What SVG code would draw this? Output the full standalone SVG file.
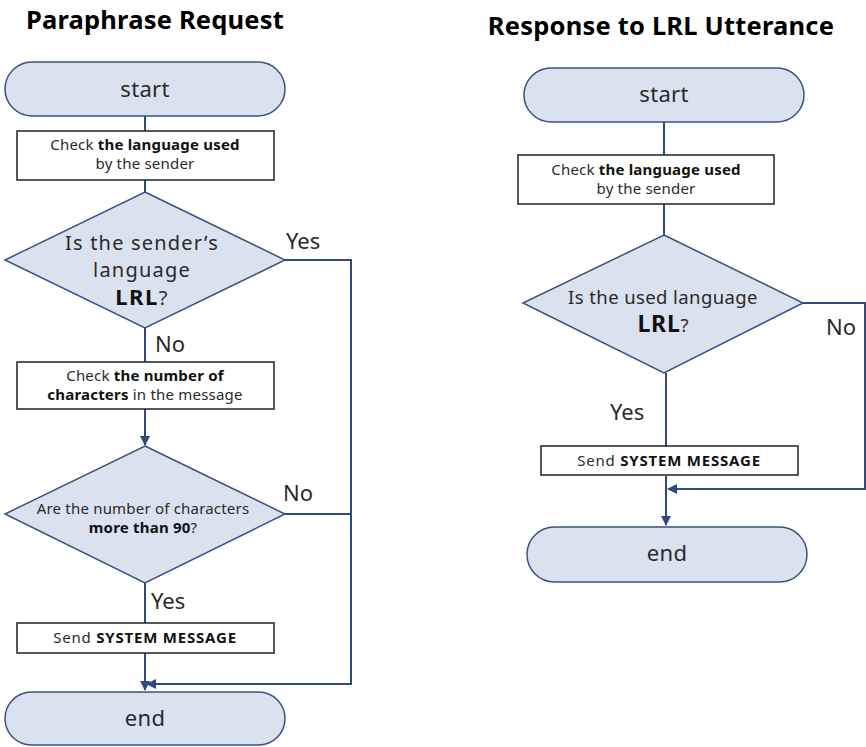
<svg xmlns="http://www.w3.org/2000/svg" width="866" height="747" viewBox="0 0 866 747">
<defs>
<style>
text{font-family:"Noto Sans","DejaVu Sans",sans-serif;fill:#2a2a2a;text-anchor:middle}
.title{font-size:25.5px;font-weight:bold;fill:#000;letter-spacing:0.2px}
.term{fill:#dae1ef;stroke:#3b5181;stroke-width:1.5}
.dia{fill:#dae1ef;stroke:#3b5181;stroke-width:1.5}
.box{fill:#fff;stroke:#222;stroke-width:1.5}
.t14{font-size:15px;letter-spacing:0.2px}
.send{font-size:15px;letter-spacing:0.8px}
.t20{font-size:22px;letter-spacing:0.3px}
.q{font-size:20px;letter-spacing:1.2px}
.lbl{font-size:22px;text-anchor:start}
.b{font-weight:bold;fill:#111}
.big{font-size:22px;letter-spacing:1.5px}
.con{fill:none;stroke:#2f4a7c;stroke-width:2}
</style>
<marker id="ah" viewBox="0 0 10 10" refX="9" refY="5" markerWidth="5" markerHeight="5" orient="auto-start-reverse">
<path d="M0,0 L10,5 L0,10 z" fill="#2f4a7c"/>
</marker>
</defs>
<rect width="866" height="747" fill="#fff"/>
<text class="title" x="155" y="29">Paraphrase Request</text>
<text class="title" x="661" y="35">Response to LRL Utterance</text>

<g id="connectors">
<path class="con" d="M145,116 V131"/>
<path class="con" d="M145,180 V192"/>
<path class="con" d="M145,328 V362"/>
<path class="con" d="M145,409 V445" marker-end="url(#ah)"/>
<path class="con" d="M145,583 V623"/>
<path class="con" d="M145,653 V690" marker-end="url(#ah)"/>
<path class="con" d="M285,260 H351 V684 H147" marker-end="url(#ah)"/>
<path class="con" d="M285,514 H351"/>
<path class="con" d="M664,122 V155"/>
<path class="con" d="M664,204 V235"/>
<path class="con" d="M666,373 V446"/>
<path class="con" d="M666,476 V525" marker-end="url(#ah)"/>
<path class="con" d="M803,303 H865 V489 H668" marker-end="url(#ah)"/>
</g>

<g id="l-start"><rect class="term" x="5" y="62" width="280" height="54" rx="27"/><text class="t20" x="145" y="97">start</text></g>
<g id="l-check-lang"><rect class="box" x="17" y="131" width="257" height="49"/>
<text class="t14" x="145" y="150">Check <tspan class="b">the language used</tspan></text>
<text class="t14" x="145" y="169">by the sender</text></g>
<g id="l-dia1"><path class="dia" d="M145,192 L285,260 L145,328 L5,260 Z"/>
<text class="q" x="142" y="250">Is the sender’s</text>
<text class="q" x="142" y="277">language</text>
<text class="q" x="142" y="305"><tspan class="b big">LRL</tspan>?</text></g>
<text class="lbl" x="286" y="249">Yes</text>
<text class="lbl" x="155" y="352">No</text>
<g id="l-check-num"><rect class="box" x="17" y="362" width="257" height="47"/>
<text class="t14" x="145" y="381">Check <tspan class="b">the number of</tspan></text>
<text class="t14" x="145" y="400"><tspan class="b">characters</tspan>  in the message</text></g>
<g id="l-dia2"><path class="dia" d="M145,446 L285,514 L145,583 L5,514 Z"/>
<text class="t14" x="143" y="514">Are the number of characters</text>
<text class="t14" x="143" y="533"><tspan class="b">more than 90</tspan>?</text></g>
<text class="lbl" x="283" y="501">No</text>
<text class="lbl" x="151" y="609">Yes</text>
<g id="l-send"><rect class="box" x="17" y="623" width="257" height="30"/>
<text class="send" x="145" y="643">Send <tspan class="b">SYSTEM MESSAGE</tspan></text></g>
<g id="l-end"><rect class="term" x="5" y="692" width="280" height="53" rx="26.5"/><text class="t20" x="145" y="726">end</text></g>

<g id="r-start"><rect class="term" x="524" y="68" width="280" height="54" rx="27"/><text class="t20" x="664" y="102">start</text></g>
<g id="r-check-lang"><rect class="box" x="518" y="155" width="256" height="49"/>
<text class="t14" x="646" y="175">Check <tspan class="b">the language used</tspan></text>
<text class="t14" x="646" y="194">by the sender</text></g>
<g id="r-dia"><path class="dia" d="M664,235 L803,303 L664,373 L523,303 Z"/>
<text x="663" y="304" style="font-size:18.5px;letter-spacing:0.4px">Is the used language</text>
<text x="663" y="332" style="font-size:18.5px"><tspan class="b" style="font-size:23px;letter-spacing:0.8px">LRL</tspan>?</text></g>
<text class="lbl" x="826" y="335">No</text>
<text class="lbl" x="610" y="420">Yes</text>
<g id="r-send"><rect class="box" x="541" y="446" width="257" height="29"/>
<text class="send" x="669" y="466">Send <tspan class="b">SYSTEM MESSAGE</tspan></text></g>
<g id="r-end"><rect class="term" x="527" y="527" width="280" height="55" rx="27.5"/><text class="t20" x="667" y="561">end</text></g>
</svg>
